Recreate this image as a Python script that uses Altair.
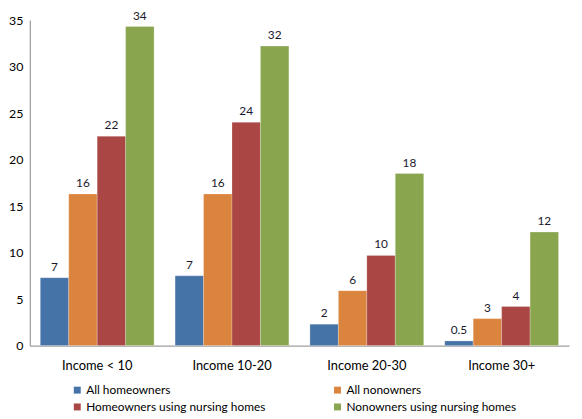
import altair as alt
import pandas as pd

categories = ["Income < 10", "Income 10-20", "Income 20-30", "Income 30+"]
series = ["All homeowners", "All nonowners",
          "Homeowners using nursing homes", "Nonowners using nursing homes"]
colors = ["#4572A7", "#DB843D", "#AA4643", "#89A54E"]

all_homeowners = [7.3, 7.5, 2.3, 0.5]
all_nonowners = [16.3, 16.3, 5.9, 2.9]
homeowners_nh = [22.5, 24.0, 9.7, 4.2]
nonowners_nh = [34.3, 32.2, 18.5, 12.2]

labels_homeowners = ["7", "7", "2", "0.5"]
labels_nonowners = ["16", "16", "6", "3"]
labels_homeowners_nh = ["22", "24", "10", "4"]
labels_nonowners_nh = ["34", "32", "18", "12"]

values = [all_homeowners, all_nonowners, homeowners_nh, nonowners_nh]
labels = [labels_homeowners, labels_nonowners, labels_homeowners_nh, labels_nonowners_nh]

rows = []
for s, vals, labs in zip(series, values, labels):
    for c, v, l in zip(categories, vals, labs):
        rows.append({"category": c, "series": s, "value": v, "label": l})
df = pd.DataFrame(rows)

FONT = "Lato"

x = alt.X("category:N", sort=categories, title=None,
          scale=alt.Scale(paddingInner=0.156, paddingOuter=0.078),
          axis=alt.Axis(labelAngle=0, ticks=False, domainColor="#868686",
                        labelFontSize=13, labelColor="#000000", labelPadding=14,
                        labelFont=FONT))
xo = alt.XOffset("series:N", sort=series, scale=alt.Scale(paddingInner=0, paddingOuter=0))
y = alt.Y("value:Q", title=None,
          scale=alt.Scale(domain=[0, 35], nice=False),
          axis=alt.Axis(values=[0, 5, 10, 15, 20, 25, 30, 35], grid=False, ticks=False,
                        domainColor="#868686", labelFontSize=12.5, labelColor="#000000",
                        labelPadding=7, labelFont=FONT))

bars = alt.Chart(df).mark_bar(stroke="#ffffff", strokeWidth=0.4, strokeOpacity=0.6).encode(
    x=x, xOffset=xo, y=y,
    color=alt.Color("series:N", sort=series,
                    scale=alt.Scale(domain=series, range=colors),
                    legend=alt.Legend(title=None, orient="none", legendX=42, legendY=368,
                                      direction="horizontal",
                                      columns=2, columnPadding=66, rowPadding=5,
                                      symbolType="square", symbolSize=49,
                                      symbolStrokeWidth=0, labelFontSize=12,
                                      labelFont=FONT, labelColor="#000000",
                                      labelOffset=3, labelLimit=400, padding=0))
)

text = alt.Chart(df).mark_text(baseline="bottom", dy=-4, fontSize=12, font=FONT,
                               color="#1a1a2e").encode(
    x=alt.X("category:N", sort=categories), xOffset=alt.XOffset("series:N", sort=series),
    y="value:Q", text="label:N"
)

chart = alt.layer(bars, text).properties(
    width=545, height=329,
    autosize=alt.AutoSizeParams(type="none"),
    padding={"left": 22, "top": 10, "right": 5, "bottom": 72},
).configure_view(stroke=None)

chart.save("out.html", embed_options={"renderer": "svg", "actions": False})
